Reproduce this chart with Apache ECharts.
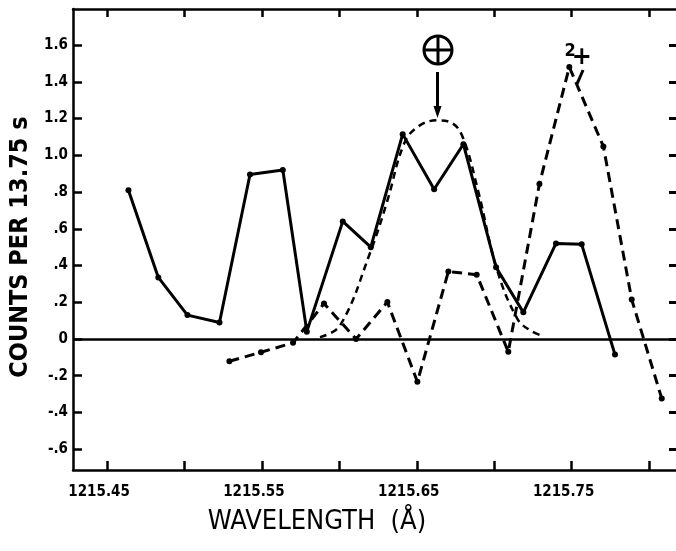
<!DOCTYPE html>
<html>
<head>
<meta charset="utf-8">
<script src="https://cdn.jsdelivr.net/npm/echarts@6/dist/echarts.min.js"></script>
<style>
html, body { margin: 0; padding: 0; background: #fff; }
#chart { width: 676px; height: 551px; }
</style>
</head>
<body>
<div id="chart"></div>
<script>
// observed counts (solid line)
var obsWave = [1215.4638, 1215.4831, 1215.5019, 1215.5226, 1215.5423, 1215.5635, 1215.5790, 1215.6022, 1215.6203,
    1215.6409, 1215.6612, 1215.6801, 1215.7012, 1215.7188, 1215.7399, 1215.7565, 1215.7780];
var obsCounts = [0.81, 0.335, 0.13, 0.09, 0.895, 0.92, 0.04, 0.64, 0.50, 1.115, 0.815, 1.06, 0.39, 0.145, 0.52, 0.515, -0.085];

// residual after the geocoronal fit is taken out (heavy dashed line)
var resWave = [1215.5290, 1215.5494, 1215.5701, 1215.5901, 1215.6108, 1215.6310, 1215.6504, 1215.6704, 1215.6887,
    1215.7091, 1215.7292, 1215.7485, 1215.7705, 1215.7888, 1215.8082];
var resCounts = [-0.121, -0.072, -0.021, 0.193, 0.0, 0.201, -0.233, 0.367, 0.35, -0.07, 0.844, 1.48, 1.048, 0.215, -0.324];

// geocoronal profile (light dashed dome)
var geoWave = [1215.5875, 1215.6005, 1215.6198, 1215.6308, 1215.6418, 1215.6508, 1215.6631, 1215.6728, 1215.6799,
    1215.6896, 1215.7018, 1215.7148, 1215.7232, 1215.7315];
var geoCounts = [0.01, 0.074, 0.468, 0.747, 1.063, 1.156, 1.19, 1.175, 1.094, 0.807, 0.378, 0.112, 0.047, 0.016];

var xTicks = [1215.45, 1215.50, 1215.55, 1215.60, 1215.65, 1215.70, 1215.75, 1215.80];
var xLabels = [1215.45, 1215.55, 1215.65, 1215.75];
var yTicks = [-0.6, -0.4, -0.2, 0, 0.2, 0.4, 0.6, 0.8, 1.0, 1.2, 1.4, 1.6];
var yLabels = ["-.6", "-.4", "-.2", "0", ".2", ".4", ".6", ".8", "1.0", "1.2", "1.4", "1.6"];

// annotation anchors, in data units
var geoMarkAt = [1215.6637, 1.573];
var arrowFrom = [1215.6634, 1.453];
var arrowTo = [1215.6634, 1.203];
var twoAt = [1215.7490, 1.568];
var plusAt = [1215.7565, 1.530];
var slashFrom = [1215.7574, 1.464];
var slashTo = [1215.7535, 1.388];

var font = "'Liberation Sans Narrow', 'DejaVu Sans Condensed', sans-serif";
var ink = "#000";

function pairs(xs, ys) {
    return xs.map(function (x, i) { return [x, ys[i]]; });
}

var chart = echarts.init(document.getElementById("chart"));

var xMin = 1215.428, xMax = 1215.8174, yMin = -0.713, yMax = 1.796;

var option = {
    animation: false,
    backgroundColor: "#fff",
    grid: { left: 73, right: 0, top: 9, bottom: 81, containLabel: false, outerBoundsMode: "none" },
    xAxis: [
        {
            type: "value", position: "bottom", min: xMin, max: xMax,
            name: "WAVELENGTH  (Å)", nameLocation: "middle", nameGap: 38,
            nameTextStyle: { fontFamily: font, fontSize: 27, color: ink, padding: [0, 115, 0, 0] },
            axisLine: { show: true, onZero: false, lineStyle: { color: ink, width: 2.5 } },
            axisTick: { show: true, inside: true, length: 9, customValues: xTicks, lineStyle: { color: ink, width: 2.5 } },
            axisLabel: {
                show: true, customValues: xLabels, margin: 15, color: ink,
                fontFamily: font, fontSize: 15, fontWeight: "bold", padding: [0, 16, 0, 0],
                formatter: function (v) { return v.toFixed(2); }
            },
            splitLine: { show: false }
        },
        {
            type: "value", position: "top", min: xMin, max: xMax,
            axisLine: { show: true, onZero: false, lineStyle: { color: ink, width: 2.5 } },
            axisTick: { show: true, inside: true, length: 8, customValues: xTicks, lineStyle: { color: ink, width: 2.5 } },
            axisLabel: { show: false },
            splitLine: { show: false }
        }
    ],
    yAxis: [
        {
            type: "value", position: "left", min: yMin, max: yMax,
            name: "COUNTS PER 13.75 s", nameLocation: "middle", nameRotate: 90, nameGap: 35,
            nameTextStyle: { fontFamily: font, fontSize: 25, fontWeight: "bold", color: ink, padding: [0, 15, 0, 0] },
            axisLine: { show: true, onZero: false, lineStyle: { color: ink, width: 2.5 } },
            axisTick: { show: true, inside: true, length: 9, customValues: yTicks, lineStyle: { color: ink, width: 2.5 } },
            axisLabel: {
                show: true, customValues: yTicks, margin: 5, color: ink,
                fontFamily: font, fontSize: 15, fontWeight: "bold",
                formatter: function (v) {
                    for (var i = 0; i < yTicks.length; i++) {
                        if (Math.abs(yTicks[i] - v) < 1e-6) return yLabels[i];
                    }
                    return "";
                }
            },
            splitLine: { show: false }
        },
        {
            type: "value", position: "right", min: yMin, max: yMax,
            axisLine: { show: false },
            axisTick: { show: true, inside: true, length: 7, customValues: yTicks, lineStyle: { color: ink, width: 3 } },
            axisLabel: { show: false },
            splitLine: { show: false }
        }
    ],
    series: [
        {
            name: "observed", type: "line", data: pairs(obsWave, obsCounts),
            symbol: "circle", symbolSize: 6, itemStyle: { color: ink },
            lineStyle: { color: ink, width: 3 },
            markLine: {
                silent: true, symbol: "none", label: { show: false },
                lineStyle: { color: ink, width: 2.5, type: "solid" },
                data: [{ yAxis: 0 }]
            }
        },
        {
            name: "residual", type: "line", data: pairs(resWave, resCounts),
            symbol: "circle", symbolSize: 6, itemStyle: { color: ink },
            lineStyle: { color: ink, width: 3, type: [10, 6] }
        },
        {
            name: "geocorona", type: "line", data: pairs(geoWave, geoCounts),
            symbol: "none", smooth: 0.4,
            lineStyle: { color: ink, width: 2.5, type: [7, 5] }
        }
    ]
};

chart.setOption(option);

// annotations: earth symbol with arrow, and the 2+ mark
function px(p) { return chart.convertToPixel({ seriesIndex: 0 }, p); }
var c = px(geoMarkAt), a0 = px(arrowFrom), a1 = px(arrowTo);
var t2 = px(twoAt), tp = px(plusAt), s0 = px(slashFrom), s1 = px(slashTo);
var r = 14;
chart.setOption({
    graphic: [
        { type: "circle", shape: { cx: c[0], cy: c[1], r: r }, style: { fill: "none", stroke: ink, lineWidth: 3 } },
        { type: "line", shape: { x1: c[0] - r, y1: c[1], x2: c[0] + r, y2: c[1] }, style: { stroke: ink, lineWidth: 3 } },
        { type: "line", shape: { x1: c[0], y1: c[1] - r, x2: c[0], y2: c[1] + r }, style: { stroke: ink, lineWidth: 3 } },
        { type: "line", shape: { x1: a0[0], y1: a0[1], x2: a1[0], y2: a1[1] - 8 }, style: { stroke: ink, lineWidth: 3 } },
        { type: "polygon", shape: { points: [[a1[0] - 4, a1[1] - 12], [a1[0] + 4, a1[1] - 12], [a1[0], a1[1]]] }, style: { fill: ink } },
        { type: "text", x: t2[0], y: t2[1], style: { text: "2", fontFamily: font, fontSize: 18, fontWeight: "bold", fill: ink, align: "center", verticalAlign: "middle" } },
        { type: "text", x: tp[0], y: tp[1], style: { text: "+", fontFamily: "DejaVu Sans", fontSize: 24, fontWeight: "bold", fill: ink, align: "center", verticalAlign: "middle" } },
        { type: "line", shape: { x1: s0[0], y1: s0[1], x2: s1[0], y2: s1[1] }, style: { stroke: ink, lineWidth: 3 } }
    ]
});
</script>
</body>
</html>
